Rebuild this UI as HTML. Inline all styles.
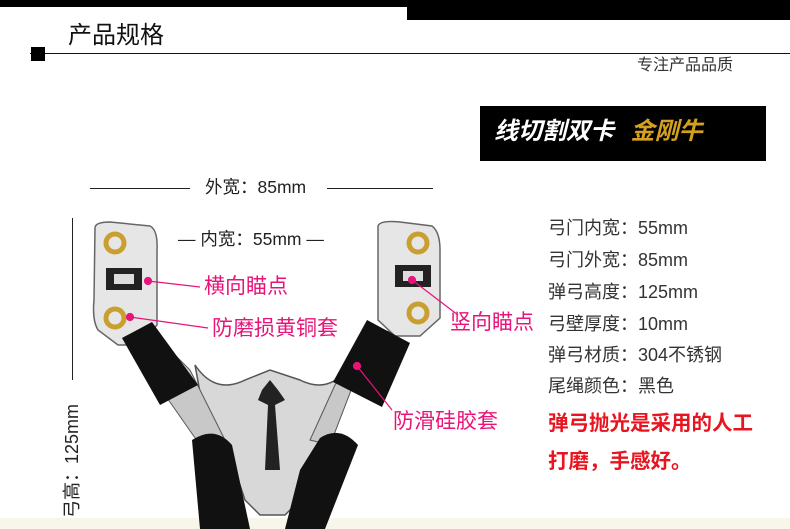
<!DOCTYPE html>
<html><head><meta charset="utf-8"><style>
*{margin:0;padding:0}
body{width:790px;height:529px;position:relative;background:#fff;overflow:hidden;font-family:"Liberation Sans","Noto Sans CJK SC",sans-serif}
.a{position:absolute;white-space:nowrap;line-height:1.2}
.spec{font-size:18px;color:#333;left:548px}
.red{font-size:20.5px;color:#e8141f;font-weight:bold;left:548px}
.pk{font-size:21px;color:#e8147a}
</style></head><body>
<div class="a" style="left:0;top:0;width:790px;height:7px;background:#000"></div>
<div class="a" style="left:407px;top:0;width:383px;height:20px;background:#000"></div>
<div class="a" style="left:68px;top:22px;font-size:24px;color:#111">产品规格</div>
<div class="a" style="left:30px;top:53px;width:760px;height:1px;background:#111"></div>
<div class="a" style="left:31px;top:47px;width:14px;height:14px;background:#000"></div>
<div class="a" style="left:637px;top:56px;font-size:16px;color:#333">专注产品品质</div>
<div class="a" style="left:480px;top:106px;width:286px;height:55px;background:#000"></div>
<div class="a" style="left:494px;top:118px;font-size:24px;font-weight:bold;font-style:italic;color:#fff">线切割双卡 <span style="color:#d4a020;margin-left:10px">金刚牛</span></div>

<div class="a" style="left:90px;top:188px;width:100px;height:1px;background:#222"></div>
<div class="a" style="left:205px;top:177px;font-size:17.5px;color:#222">外宽：85mm</div>
<div class="a" style="left:327px;top:188px;width:106px;height:1px;background:#222"></div>
<div class="a" style="left:178px;top:229px;font-size:17.5px;color:#222">— 内宽：55mm —</div>
<div class="a" style="left:72px;top:218px;width:1px;height:162px;background:#222"></div>
<div class="a" style="left:62px;top:518px;font-size:18px;color:#222;transform:rotate(-90deg);transform-origin:0 0">弓高：125mm</div>

<svg class="a" style="left:0;top:0" width="790" height="529">
<rect x="0" y="518" width="790" height="11" fill="#f8f6ea"/>
<path d="M195,365 Q215,395 245,380 L270,370 L300,380 Q330,395 350,365 L335,420 L320,440 L300,500 L285,515 L260,515 L245,500 L225,440 L205,420 Z" fill="#d8d8d8" stroke="#555" stroke-width="1.5"/>
<path d="M262,390 L270,380 L278,390 L285,400 L275,405 L280,470 L265,470 L268,405 L258,400 Z" fill="#222"/>
<path d="M150,330 L190,370 L225,440 L200,445 L165,395 L130,350 Z" fill="#c8c8c8" stroke="#555"/>
<path d="M395,330 L355,380 L330,445 L310,440 L335,385 L370,335 Z" fill="#c8c8c8" stroke="#555"/>
<path d="M95,228 Q95,222 110,222 L150,226 Q158,230 157,250 L157,325 L140,345 L118,345 L98,330 Q92,320 94,300 Z" fill="#e6e6e6" stroke="#666" stroke-width="1.5"/>
<path d="M378,226 Q380,220 400,222 L432,226 Q440,232 440,250 L440,318 L420,336 L395,336 L378,320 Z" fill="#e6e6e6" stroke="#666" stroke-width="1.5"/>
<rect x="106" y="268" width="36" height="22" fill="#222"/><rect x="114" y="274" width="20" height="10" fill="#ddd"/>
<rect x="395" y="265" width="36" height="22" fill="#222"/><rect x="403" y="271" width="20" height="10" fill="#ddd"/>
<g fill="none" stroke="#c9a030" stroke-width="5"><circle cx="115" cy="243" r="9"/><circle cx="115" cy="318" r="9"/><circle cx="418" cy="243" r="9"/><circle cx="418" cy="313" r="9"/></g>
<path d="M122,338 L152,322 L198,385 L160,405 Z" fill="#111"/>
<path d="M333,382 L367,320 L410,343 L382,407 Z" fill="#111"/>
<path d="M192,440 Q215,425 232,445 L250,529 L200,529 Z" fill="#111"/>
<path d="M320,438 Q340,425 358,445 L325,529 L285,529 L300,470 Z" fill="#111"/>
<g stroke="#e8147a" stroke-width="1.2" fill="#e8147a">
<line x1="148" y1="281" x2="200" y2="287"/><circle cx="148" cy="281" r="3.5"/>
<line x1="130" y1="317" x2="208" y2="328"/><circle cx="130" cy="317" r="3.5"/>
<line x1="412" y1="280" x2="458" y2="315"/><circle cx="412" cy="280" r="3.5"/>
<line x1="357" y1="366" x2="392" y2="410"/><circle cx="357" cy="366" r="3.5"/>
</g>
</svg>
<div class="a pk" style="left:204px;top:274px">横向瞄点</div>
<div class="a pk" style="left:212px;top:316px">防磨损黄铜套</div>
<div class="a pk" style="left:450px;top:310px">竖向瞄点</div>
<div class="a pk" style="left:393px;top:409px">防滑硅胶套</div>

<div class="a spec" style="top:218px">弓门内宽：55mm</div>
<div class="a spec" style="top:250px">弓门外宽：85mm</div>
<div class="a spec" style="top:282px">弹弓高度：125mm</div>
<div class="a spec" style="top:314px">弓壁厚度：10mm</div>
<div class="a spec" style="top:345px">弹弓材质：304不锈钢</div>
<div class="a spec" style="top:376px">尾绳颜色：黑色</div>
<div class="a red" style="top:412px">弹弓抛光是采用的人工</div>
<div class="a red" style="top:450px">打磨，手感好。</div>
</body></html>
